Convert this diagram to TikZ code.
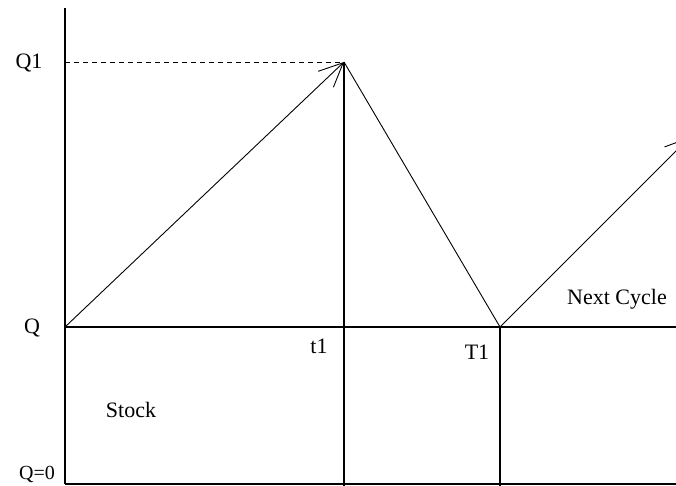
\documentclass[tikz,border=0pt]{standalone}
\usepackage{fontspec}
\usetikzlibrary{arrows.meta}
\setmainfont{Liberation Serif}
\begin{document}
\begin{tikzpicture}[x=1pt,y=-1pt,
  ln/.style={line width=1.3pt,black},
  thin/.style={line width=0.9pt,black},
  barb/.style={-{Straight Barb[length=24pt,width=22pt,line width=0.9pt]}},
  lbl/.style={font=\fontsize{22}{24}\selectfont,inner sep=0pt,anchor=base}]
\useasboundingbox (0,0) rectangle (676,486);
\coordinate (top) at (65,8);
\coordinate (o) at (65,327);
\coordinate (bl) at (65,484);
\coordinate (br) at (676,484);
\coordinate (hr) at (676,327);
\coordinate (pk) at (344,62);
\coordinate (pkb) at (344,486);
\coordinate (T) at (500,327);
\coordinate (Tb) at (500,486);
\coordinate (nx) at (690,137);
\coordinate (q1) at (65,62);
\draw[ln] (top) -- (bl);
\draw[ln] (o) -- (hr);
\draw[ln] (bl) -- (br);
\draw[ln] (pk) -- (pkb);
\draw[ln] (T) -- (Tb);
\draw[thin,dashed,dash pattern=on 5pt off 4pt] (q1) -- (pk);
\draw[thin,barb] (o) -- (pk);
\draw[thin] (pk) -- (T);
\draw[thin,barb] (T) -- (nx);
\node[lbl] (lq1) at (29,69) {Q1};
\node[lbl] (lq) at (32,333) {Q};
\node[lbl] (lt1) at (319,353) {t1};
\node[lbl] (lT1) at (477,359) {T1};
\node[lbl] (ls) at (131,417) {Stock};
\node[lbl,font=\fontsize{20}{22}\selectfont] (lq0) at (37,479) {Q=0};
\node[lbl] (ln) at (617,304) {Next Cycle};
\end{tikzpicture}
\end{document}
